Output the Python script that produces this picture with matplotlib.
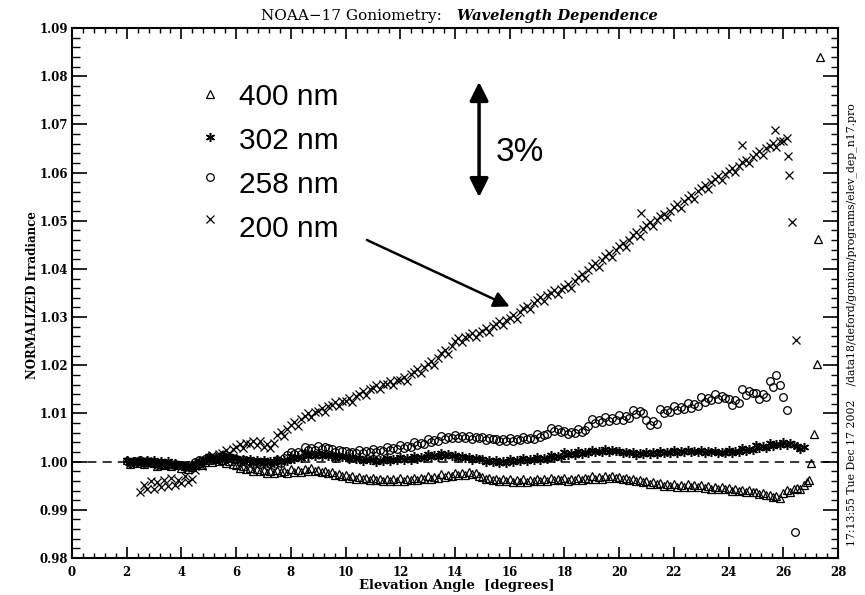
import numpy as np
import matplotlib
matplotlib.use("Agg")
import matplotlib.pyplot as plt
from matplotlib.patches import FancyArrowPatch

# ---------------- data (elevation step 0.125 deg) ----------------
STEP = 0.125

start_400 = 2.0
irr_400 = [
    1.0003, 0.9996, 1.0001, 0.9998, 1.0002, 0.9995, 0.9999, 1.0001,
    0.9998, 0.9991, 0.9996, 0.9993, 0.9997, 0.9990, 0.9995, 0.9992,
    0.9986, 0.9991, 0.9984, 0.9989, 0.9993, 0.9997, 0.9994, 1.0000,
    1.0004, 0.9999, 1.0005, 1.0001, 1.0003, 0.9998, 1.0002, 0.9996,
    0.9993, 0.9987, 0.9990, 0.9985, 0.9987, 0.9981, 0.9984, 0.9980,
    0.9983, 0.9977, 0.9981, 0.9976, 0.9982, 0.9978, 0.9980, 0.9976,
    0.9984, 0.9979, 0.9982, 0.9978, 0.9985, 0.9981, 0.9986, 0.9980,
    0.9983, 0.9978, 0.9981, 0.9976, 0.9978, 0.9972, 0.9975, 0.9971,
    0.9972, 0.9966, 0.9970, 0.9965, 0.9968, 0.9963, 0.9967, 0.9962,
    0.9967, 0.9961, 0.9965, 0.9960, 0.9964, 0.9959, 0.9963, 0.9960,
    0.9966, 0.9960, 0.9964, 0.9961, 0.9967, 0.9962, 0.9966, 0.9963,
    0.9970, 0.9965, 0.9969, 0.9966, 0.9974, 0.9969, 0.9973, 0.9970,
    0.9977, 0.9972, 0.9976, 0.9973, 0.9979, 0.9974, 0.9977, 0.9971,
    0.9969, 0.9964, 0.9967, 0.9962, 0.9965, 0.9959, 0.9963, 0.9960,
    0.9963, 0.9957, 0.9961, 0.9958, 0.9963, 0.9958, 0.9962, 0.9959,
    0.9965, 0.9959, 0.9963, 0.9960, 0.9966, 0.9961, 0.9965, 0.9962,
    0.9966, 0.9960, 0.9964, 0.9961, 0.9967, 0.9962, 0.9966, 0.9963,
    0.9970, 0.9964, 0.9968, 0.9965, 0.9971, 0.9967, 0.9970, 0.9966,
    0.9968, 0.9963, 0.9967, 0.9962, 0.9964, 0.9959, 0.9962, 0.9958,
    0.9960, 0.9954, 0.9958, 0.9953, 0.9955, 0.9950, 0.9954, 0.9950,
    0.9954, 0.9948, 0.9952, 0.9947, 0.9953, 0.9948, 0.9951, 0.9947,
    0.9951, 0.9945, 0.9949, 0.9944, 0.9948, 0.9943, 0.9947, 0.9944,
    0.9946, 0.9940, 0.9944, 0.9939, 0.9942, 0.9937, 0.9941, 0.9937,
    0.9938, 0.9932, 0.9935, 0.9930, 0.9931, 0.9926, 0.9929, 0.9925,
    0.9935, 0.9941, 0.9937, 0.9944, 0.9946, 0.9943, 0.9952, 0.9958,
]
tail_x_400 = [26.95, 27.03, 27.13, 27.24, 27.28, 27.34]
tail_y_400 = [0.9962, 0.9998, 1.0058, 1.0202, 1.0462, 1.0839]

start_302 = 2.0
irr_302 = [
    1.0003, 0.9997, 1.0002, 0.9998, 1.0004, 0.9999, 1.0003, 0.9999,
    1.0003, 0.9997, 1.0001, 0.9998, 1.0001, 0.9995, 0.9998, 0.9994,
    0.9994, 0.9988, 0.9992, 0.9989, 0.9998, 1.0002, 1.0000, 1.0005,
    1.0011, 1.0005, 1.0009, 1.0006, 1.0013, 1.0008, 1.0011, 1.0007,
    1.0008, 1.0002, 1.0006, 1.0003, 1.0005, 0.9999, 1.0003, 0.9999,
    1.0003, 0.9997, 1.0001, 0.9998, 1.0006, 1.0000, 1.0004, 1.0002,
    1.0011, 1.0005, 1.0009, 1.0007, 1.0017, 1.0011, 1.0015, 1.0012,
    1.0017, 1.0011, 1.0015, 1.0012, 1.0014, 1.0008, 1.0012, 1.0009,
    1.0011, 1.0005, 1.0009, 1.0006, 1.0008, 1.0002, 1.0006, 1.0003,
    1.0006, 1.0000, 1.0004, 1.0001, 1.0007, 1.0001, 1.0005, 1.0003,
    1.0009, 1.0003, 1.0007, 1.0004, 1.0012, 1.0006, 1.0010, 1.0008,
    1.0015, 1.0009, 1.0013, 1.0010, 1.0017, 1.0011, 1.0015, 1.0012,
    1.0013, 1.0007, 1.0011, 1.0008, 1.0010, 1.0004, 1.0008, 1.0005,
    1.0005, 0.9999, 1.0003, 1.0000, 1.0003, 0.9997, 1.0001, 0.9998,
    1.0006, 1.0000, 1.0004, 1.0001, 1.0008, 1.0002, 1.0006, 1.0004,
    1.0010, 1.0004, 1.0008, 1.0005, 1.0014, 1.0008, 1.0012, 1.0010,
    1.0019, 1.0013, 1.0017, 1.0014, 1.0022, 1.0016, 1.0020, 1.0018,
    1.0025, 1.0019, 1.0023, 1.0020, 1.0027, 1.0021, 1.0025, 1.0022,
    1.0023, 1.0017, 1.0021, 1.0018, 1.0020, 1.0014, 1.0018, 1.0015,
    1.0021, 1.0015, 1.0019, 1.0016, 1.0023, 1.0017, 1.0021, 1.0018,
    1.0024, 1.0018, 1.0022, 1.0019, 1.0025, 1.0019, 1.0023, 1.0020,
    1.0024, 1.0018, 1.0022, 1.0019, 1.0023, 1.0017, 1.0021, 1.0018,
    1.0024, 1.0018, 1.0022, 1.0020, 1.0028, 1.0022, 1.0026, 1.0024,
    1.0034, 1.0028, 1.0032, 1.0029, 1.0039, 1.0033, 1.0037, 1.0035,
    1.0040, 1.0034, 1.0038, 1.0035, 1.0033, 1.0027, 1.0030,
]

start_258 = 2.0
irr_258 = [
    1.0002, 0.9997, 1.0001, 0.9999, 1.0003, 0.9998, 1.0001, 0.9997,
    0.9999, 0.9993, 0.9997, 0.9994, 0.9996, 0.9991, 0.9995, 0.9992,
    0.9994, 0.9988, 0.9992, 0.9990, 0.9999, 1.0003, 1.0001, 1.0005,
    1.0009, 1.0003, 1.0007, 1.0005, 1.0011, 1.0005, 1.0009, 1.0006,
    1.0005, 0.9999, 1.0003, 1.0000, 1.0001, 0.9995, 0.9999, 0.9996,
    0.9999, 0.9993, 0.9997, 0.9994, 1.0003, 0.9998, 1.0008, 1.0013,
    1.0021, 1.0015, 1.0019, 1.0016, 1.0030, 1.0024, 1.0028, 1.0025,
    1.0033, 1.0027, 1.0031, 1.0028, 1.0027, 1.0021, 1.0025, 1.0022,
    1.0023, 1.0017, 1.0021, 1.0018, 1.0024, 1.0018, 1.0022, 1.0019,
    1.0027, 1.0021, 1.0025, 1.0022, 1.0030, 1.0024, 1.0028, 1.0026,
    1.0034, 1.0028, 1.0032, 1.0030, 1.0040, 1.0034, 1.0038, 1.0036,
    1.0047, 1.0041, 1.0045, 1.0043, 1.0053, 1.0047, 1.0051, 1.0049,
    1.0055, 1.0049, 1.0053, 1.0050, 1.0054, 1.0048, 1.0052, 1.0049,
    1.0051, 1.0045, 1.0049, 1.0046, 1.0048, 1.0042, 1.0046, 1.0043,
    1.0049, 1.0043, 1.0047, 1.0044, 1.0052, 1.0046, 1.0050, 1.0047,
    1.0057, 1.0051, 1.0055, 1.0058, 1.0070, 1.0064, 1.0068, 1.0062,
    1.0064, 1.0058, 1.0062, 1.0059, 1.0068, 1.0062, 1.0066, 1.0075,
    1.0089, 1.0081, 1.0087, 1.0083, 1.0092, 1.0084, 1.0090, 1.0086,
    1.0096, 1.0087, 1.0094, 1.0090, 1.0107, 1.0098, 1.0105, 1.0100,
    1.0086, 1.0076, 1.0084, 1.0079, 1.0109, 1.0100, 1.0107, 1.0102,
    1.0116, 1.0107, 1.0114, 1.0110, 1.0122, 1.0112, 1.0120, 1.0115,
    1.0135, 1.0124, 1.0132, 1.0127, 1.0140, 1.0129, 1.0137, 1.0132,
    1.0130, 1.0118, 1.0127, 1.0122, 1.0150, 1.0139, 1.0147, 1.0142,
    1.0143, 1.0130, 1.0140, 1.0135, 1.0167, 1.0155, 1.0180, 1.0160,
    1.0135, 1.0107,
]
extra_x_258 = [26.43]
extra_y_258 = [0.9853]

start_200 = 2.5
irr_200 = [
    0.9938, 0.9952, 0.9944, 0.9960,
    0.9943, 0.9958, 0.9947, 0.9962, 0.9950, 0.9966, 0.9952, 0.9961,
    0.9955, 0.9970, 0.9958, 0.9964, 0.9982, 0.9995, 0.9990, 1.0002,
    1.0008, 1.0014, 1.0006, 1.0016, 1.0018, 1.0024, 1.0016, 1.0027,
    1.0031, 1.0037, 1.0029, 1.0039, 1.0036, 1.0042, 1.0034, 1.0043,
    1.0030, 1.0036, 1.0028, 1.0038, 1.0055, 1.0062, 1.0054, 1.0068,
    1.0076, 1.0082, 1.0074, 1.0088, 1.0095, 1.0101, 1.0093, 1.0104,
    1.0106, 1.0112, 1.0104, 1.0115, 1.0118, 1.0124, 1.0116, 1.0126,
    1.0126, 1.0132, 1.0124, 1.0137, 1.0141, 1.0147, 1.0139, 1.0150,
    1.0153, 1.0159, 1.0151, 1.0161, 1.0161, 1.0167, 1.0159, 1.0170,
    1.0170, 1.0176, 1.0168, 1.0181, 1.0186, 1.0192, 1.0184, 1.0197,
    1.0203, 1.0209, 1.0201, 1.0215, 1.0226, 1.0232, 1.0224, 1.0240,
    1.0250, 1.0256, 1.0248, 1.0258, 1.0260, 1.0266, 1.0258, 1.0268,
    1.0271, 1.0277, 1.0269, 1.0281, 1.0285, 1.0291, 1.0283, 1.0294,
    1.0298, 1.0304, 1.0296, 1.0310, 1.0318, 1.0324, 1.0316, 1.0330,
    1.0335, 1.0341, 1.0333, 1.0345, 1.0350, 1.0356, 1.0348, 1.0359,
    1.0363, 1.0369, 1.0361, 1.0375, 1.0383, 1.0389, 1.0381, 1.0397,
    1.0406, 1.0412, 1.0404, 1.0418, 1.0426, 1.0432, 1.0424, 1.0440,
    1.0448, 1.0454, 1.0446, 1.0461, 1.0470, 1.0476, 1.0468, 1.0483,
    1.0491, 1.0497, 1.0489, 1.0502, 1.0509, 1.0515, 1.0507, 1.0521,
    1.0528, 1.0534, 1.0526, 1.0541, 1.0548, 1.0554, 1.0546, 1.0561,
    1.0568, 1.0574, 1.0566, 1.0580, 1.0586, 1.0592, 1.0584, 1.0597,
    1.0603, 1.0609, 1.0601, 1.0614, 1.0621, 1.0627, 1.0619, 1.0632,
    1.0638, 1.0644, 1.0636, 1.0650, 1.0655, 1.0661, 1.0653, 1.0666,
    1.0666, 1.0672,
]
extra_x_200 = [20.8, 24.5, 25.7, 26.17, 26.22, 26.33, 26.48]
extra_y_200 = [1.0516, 1.0657, 1.0688, 1.0634, 1.0595, 1.0498, 1.0253]

labels = ["400 nm", "302 nm", "258 nm", "200 nm"]
x_ticks = [0, 2, 4, 6, 8, 10, 12, 14, 16, 18, 20, 22, 24, 26, 28]
y_ticks = [0.98, 0.99, 1.00, 1.01, 1.02, 1.03, 1.04, 1.05, 1.06, 1.07, 1.08, 1.09]


def elev(start, vals):
    return start + STEP * np.arange(len(vals))


# ---------------- figure ----------------
W, H = 865, 595
fig = plt.figure(figsize=(W / 100, H / 100), dpi=100)
ax = fig.add_axes([72 / W, 1 - 558 / H, 766 / W, 530 / H])

tri = dict(marker="^", ms=6.0, mfc="none", mec="black", mew=0.9, ls="none")
ast = dict(marker=(6, 2, 0), ms=6.5, mec="black", mew=1.1, ls="none", color="black")
cir = dict(marker="o", ms=5.5, mfc="none", mec="black", mew=0.9, ls="none")
crs = dict(marker="x", ms=6.0, mec="black", mew=0.9, ls="none")

ax.axhline(1.0, color="black", lw=1.1, dashes=(6, 4), zorder=1)

ax.plot(elev(start_400, irr_400), irr_400, **tri)
ax.plot(tail_x_400, tail_y_400, **tri)
ax.plot(elev(start_302, irr_302), irr_302, **ast)
ax.plot(elev(start_258, irr_258), irr_258, **cir)
ax.plot(extra_x_258, extra_y_258, **cir)
ax.plot(elev(start_200, irr_200), irr_200, **crs)
ax.plot(extra_x_200, extra_y_200, **crs)

ax.set_xlim(0, 28)
ax.set_ylim(0.98, 1.09)
ax.set_xticks(x_ticks)
ax.set_yticks(y_ticks)
ax.set_xticklabels([str(t) for t in x_ticks])
ax.set_yticklabels([f"{t:.2f}" for t in y_ticks])
ax.xaxis.set_minor_locator(matplotlib.ticker.MultipleLocator(0.4))
ax.yaxis.set_minor_locator(matplotlib.ticker.MultipleLocator(0.002))

for lab in ax.get_xticklabels() + ax.get_yticklabels():
    lab.set_fontfamily("DejaVu Serif")
    lab.set_fontweight("bold")
    lab.set_fontsize(8.5)

ax.tick_params(axis="x", which="major", direction="in", length=7.6, width=1.2,
               top=True, bottom=True, pad=6)
ax.tick_params(axis="x", which="minor", direction="in", length=3.8, width=1.0,
               top=True, bottom=True)
ax.tick_params(axis="y", which="major", direction="in", length=10.8, width=1.2,
               left=True, right=True, pad=3)
ax.tick_params(axis="y", which="minor", direction="in", length=5.4, width=1.0,
               left=True, right=True)
for sp in ax.spines.values():
    sp.set_linewidth(1.5)

# axis labels
fig.text(457 / W, 1 - 586 / H, "Elevation Angle  [degrees]", ha="center",
         va="center", fontfamily="DejaVu Serif", fontweight="bold", fontsize=9.5)
fig.text(33 / W, 1 - 295 / H, "NORMALIZED Irradiance", ha="center", va="center",
         rotation=90, fontfamily="DejaVu Serif", fontweight="bold", fontsize=8.5)

# title
fig.text(442 / W, 1 - 20 / H, "NOAA\u221217 Goniometry:", ha="right", va="baseline",
         fontfamily="DejaVu Serif", fontsize=11)
fig.text(457 / W, 1 - 20 / H, "Wavelength Dependence", ha="left", va="baseline",
         fontfamily="DejaVu Serif", fontstyle="italic", fontweight="bold", fontsize=10.5)

# right side stamp
fig.text(852 / W, 1 - 325 / H,
         "17:13:55 Tue Dec 17 2002    /data18/deford/goniom/programs/elev_dep_n17.pro",
         rotation=90, ha="center", va="center", fontfamily="DejaVu Serif",
         fontsize=7.8)

# legend (manual)
leg_marker_x = 5.04
leg_y_marker = [1.0763, 1.0673, 1.0590, 1.0503]
leg_y_text = [1.0740, 1.0648, 1.0557, 1.0466]
styles = [tri, ast, cir, crs]
for st, ym, yt, lab in zip(styles, leg_y_marker, leg_y_text, labels):
    ax.plot([leg_marker_x], [ym], **st)
    ax.text(6.12, yt, lab, ha="left", va="baseline", fontsize=21.5,
            fontfamily="Liberation Sans")

# 3% double arrow
arr = FancyArrowPatch((14.88, 1.0549), (14.88, 1.0788), arrowstyle="<|-|>",
                      mutation_scale=28, lw=2.5, color="black",
                      shrinkA=0, shrinkB=0)
ax.add_patch(arr)
ax.text(15.5, 1.0624, "3%", ha="left", va="baseline", fontsize=24,
        fontfamily="Liberation Sans")

# arrow pointing at 200 nm series
arr2 = FancyArrowPatch((10.78, 1.0460), (16.0, 1.0322), arrowstyle="-|>",
                       mutation_scale=24, lw=1.8, color="black",
                       shrinkA=0, shrinkB=0)
ax.add_patch(arr2)

fig.savefig("out.png", dpi=100)
